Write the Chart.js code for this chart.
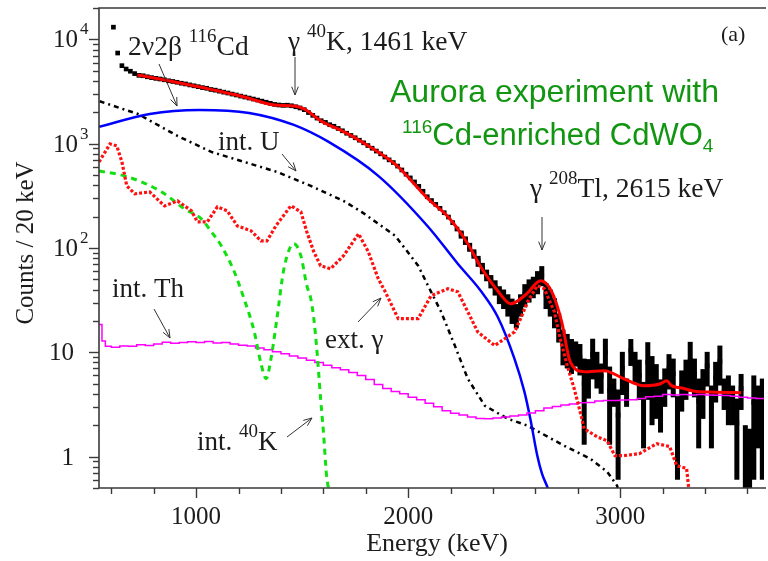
<!DOCTYPE html>
<html><head><meta charset="utf-8">
<script src="https://cdn.jsdelivr.net/npm/chart.js@4"></script>
<style>html,body{margin:0;padding:0;background:#fff;overflow:hidden}</style>
</head><body>
<canvas id="c" width="768" height="561"></canvas>
<script>
// ---------------- DATA ----------------
// Experimental spectrum, 20 keV bins
const binWidth = 20;
const lowStart = 610;   // first bin centre of low-energy part
const lowCounts = [13100,7400,5600,5200,4950,4700,4520,4480,4380,4300,
  4230,4170,4100,4010,3950,3880,3800,3740,3660,3590,
  3520,3450,3400,3310,3260,3190,3120,3060,2990,2930,
  2860,2800,2740,2680,2620,2560,2500,2440,2380,2350,
  2330,2340,2310,2260,2200,2120,1990,1870,1760,1660,
  1600,1520,1470,1400,1330,1260,1200,1140,1080,1020,
  960,905,850,800,745,700,660,610,560,510,
  470,430,390,350,310,285,262,240,218,198,
  175,152];
const highStart = 2250;
const highCounts = [135,118,102,88,75,64,55,48,42,
  36,33,29,25.7,23,29,36,40,43,48,
  55,36,31,25,18,12,11,9.8,10,9,
  5,6.1,9.5,7.3,5.9,10,4.3,4.3,2.5,7,
  4.3,10.4,7.6,6,3.2,8,5.6,5,3.6,5,
  7,6.2,2.2,4.7,6,8.4,6.2,3.4,4.6,7.4,
  3,5.7,8.2,4.2,4,3.4,2.1,4.5,1.2,1.15,
  3.3,3,3.1];
const highErr = [12,11,10,9,9,8,7,7,7,
  7,7,7,7,6,7,9,10,10,12,
  12,10,9,8,5.6,4.5,4,3.6,2.7,3,
  3.7,2.5,4,2.8,1.9,3.5,3,1.3,1.9,3.1,
  1.3,3,2.5,2.5,2,4.5,3.6,2.7,1.9,2,
  2.6,2.5,1.6,2,2.5,4.2,2.5,2.2,2.3,2.7,
  1.8,2.4,3.4,1.4,2,1.4,1.5,1.7,0.8,0.7,
  2.7,1.8,2.5];

// Total fit (red solid)
const fitE = [723,827,992,1227,1368,1462,1509,1589,1698,1782,1942,2094,2188,2281,2342,2422,2483,2554,2625,2677,2724,2764,2830,2924,3017,3111,3190,3219,3242,3300,3359,3450,3570];
const fitV = [4560,4176,3580,2808,2353,2301,2154,1653,1297,1040,626,296,199,110,66,38.9,29.2,35.6,48.5,38.1,19.6,8.13,6.52,6.67,5.58,4.79,5.0,5.35,4.79,4.5,4.2,4.15,4.1];

// 2nu2beta 116Cd (blue)
const bbE = [542,781,1015,1250,1461,1625,1859,2094,2234,2342,2422,2501,2548,2576,2609,2631,2659,2690];
const bbV = [1449,1929,2108,1974,1514,1040,492,160,70.6,38.9,21.9,8.68,4.2,2.31,1.02,0.687,0.494,0.3];

// internal U (black dash-dot)
const uE = [545,725,912,1072,1226,1381,1541,1695,1780,1939,2047,2108,2155,2220,2281,2361,2469,2563,2736,2858,2938,2985,3000];
const uV = [2550,1929,1188,834,669,537,394,283,222,131,67.6,38.0,24.5,11.6,5.58,3.08,2.31,1.98,1.27,0.957,0.718,0.527,0.4];

// external gamma (red dotted)
const extE = [542,594,626,650,673,711,781,851,912,978,1006,1053,1100,1147,1194,1259,1306,1334,1376,1447,1494,1522,1555,1587,1634,1695,1766,1812,1859,1892,1953,2047,2108,2187,2234,2281,2328,2408,2455,2502,2530,2563,2609,2642,2689,2717,2750,2783,2811,2830,2891,2938,2975,3017,3092,3172,3233,3266,3313,3322,3330];
const extV = [669,995,953,669,394,331,345,253,283,227,178,178,248,227,163,146,117,117,163,254,222,143,92,67.6,63.2,84.2,137,92,50.7,38.0,21.0,21.0,34.9,40.7,38.0,24.5,15.7,11.6,13.5,15.7,21.0,30.5,43.5,40.7,24.5,13.5,7.44,4.48,2.70,1.85,1.55,1.42,1.02,1.02,1.07,1.33,1.25,0.82,0.77,0.52,0.3];

// internal 40K (green dashed)
const kE = [542,678,837,945,1025,1072,1119,1180,1226,1273,1306,1330,1353,1381,1414,1461,1494,1522,1541,1555,1569,1587,1601,1615,1630];
const kV = [549,481,345,237,190,143,105,59.2,32.6,16.1,7.78,5.58,8.68,21.0,63.2,110,84.2,43.5,32.6,21.0,10.8,3.59,1.66,0.66,0.44];

// internal Th (magenta histogram, bin left edges)
const thE = [542,556,572,600,640,680,720,760,800,840,880,920,960,1000,1040,1080,1120,1160,1200,1240,1280,1320,1360,1400,1440,1480,1520,1560,1600,1640,1680,1720,1760,1800,1840,1880,1920,1960,2000,2040,2080,2120,2160,2200,2240,2280,2320,2360,2400,2440,2480,2520,2560,2600,2640,2680,2720,2760,2800,2840,2880,2920,2960,3000,3040,3080,3120,3160,3200,3240,3280,3320,3360,3400,3440,3480,3520,3560,3600,3640,3680];
const thV = [18.5,12.8,11.4,11.2,11.5,11.4,11.8,11.6,12.0,12.5,12.2,12.4,12.6,12.4,12.7,12.3,12.4,12.0,11.7,11.5,11.0,10.6,10.1,9.7,9.2,8.8,8.4,8.0,7.5,7.1,6.8,6.4,6.0,5.5,4.9,4.5,4.2,4.0,3.7,3.5,3.25,3.0,2.75,2.6,2.5,2.4,2.32,2.3,2.34,2.4,2.45,2.5,2.62,2.75,2.92,3.02,3.12,3.2,3.28,3.3,3.42,3.45,3.45,3.48,3.5,3.6,3.75,3.8,3.95,3.9,3.95,3.9,3.95,3.9,3.88,3.85,3.8,3.7,3.65,3.6,3.6];

// Axis ticks
const xMajor = [1000,2000,3000];
const xMinorStep = 200;
const yDecades = [1,10,100,1000,10000];

// ---------------- BUILD ----------------
const pts = (E,V)=>E.map((e,i)=>({x:e,y:V[i]}));
const dataPts = lowCounts.map((c,i)=>({x:lowStart+i*binWidth,y:c}))
  .concat(highCounts.map((c,i)=>({x:highStart+i*binWidth,y:c})));

const SERIF = '"Liberation Serif","Times New Roman",serif';
const SANS = '"Liberation Sans",Arial,sans-serif';
const INK = '#1c1c1c';

function rich(ctx,x,y,parts,align){
  let w=0; parts.forEach(p=>{ctx.font=p[1]; w+=ctx.measureText(p[0]).width;});
  let cx = align==='center' ? x-w/2 : (align==='right' ? x-w : x);
  ctx.textAlign='left'; ctx.textBaseline='alphabetic';
  parts.forEach(p=>{ctx.font=p[1]; ctx.fillText(p[0],cx,y+(p[2]||0)); cx+=ctx.measureText(p[0]).width;});
}
function arrow(ctx,x1,y1,x2,y2){
  ctx.beginPath(); ctx.moveTo(x1,y1); ctx.lineTo(x2,y2);
  const a=Math.atan2(y2-y1,x2-x1), L=9, s=0.38;
  ctx.moveTo(x2-L*Math.cos(a-s),y2-L*Math.sin(a-s)); ctx.lineTo(x2,y2);
  ctx.lineTo(x2-L*Math.cos(a+s),y2-L*Math.sin(a+s)); ctx.stroke();
}

const deco = {
  id:'deco',
  beforeDatasetsDraw(chart){
    const {ctx,chartArea:a,scales:{x,y}}=chart;
    ctx.save(); ctx.beginPath(); ctx.rect(a.left,a.top,a.right-a.left,a.bottom-a.top); ctx.clip();
    ctx.fillStyle='#000';
    highCounts.forEach((c,i)=>{
      const e=highErr[i], px=x.getPixelForValue(highStart+i*binWidth);
      const t=y.getPixelForValue(c+e), b=y.getPixelForValue(Math.max(c-e,0.01));
      ctx.fillRect(px-2.5,t,5,b-t);
    });
    ctx.restore();
  },
  afterDraw(chart){
    const {ctx,chartArea:a,scales:{x,y}}=chart;
    ctx.save();
    // frame
    ctx.strokeStyle='#3a3a3a'; ctx.lineWidth=1.6;
    ctx.beginPath(); ctx.moveTo(a.right+2,a.top); ctx.lineTo(a.left,a.top); ctx.lineTo(a.left,a.bottom); ctx.lineTo(a.right+2,a.bottom); ctx.stroke();
    // y ticks
    ctx.lineWidth=1.4;
    for(let k=-1;k<=4;k++){
      for(let m=1;m<=9;m++){
        const v=m*Math.pow(10,k); if(v<0.5||v>20000) continue;
        const py=Math.round(y.getPixelForValue(v))+0.5;
        ctx.beginPath(); ctx.moveTo(a.left,py); ctx.lineTo(a.left-(m===1?10:6),py); ctx.stroke();
      }
    }
    // x ticks
    for(let e=600;e<=3600;e+=xMinorStep){
      const px=Math.round(x.getPixelForValue(e))+0.5;
      ctx.beginPath(); ctx.moveTo(px,a.bottom); ctx.lineTo(px,a.bottom+(xMajor.includes(e)?10:6)); ctx.stroke();
    }
    ctx.fillStyle=INK;
    // x tick labels
    ctx.font='25px '+SERIF; ctx.textAlign='center'; ctx.textBaseline='alphabetic';
    xMajor.forEach(e=>ctx.fillText(String(e),x.getPixelForValue(e),524));
    // y tick labels
    yDecades.forEach(v=>{
      const py=y.getPixelForValue(v);
      const k=Math.round(Math.log10(v));
      if(k>=2){
        ctx.font='25px '+SERIF; ctx.textAlign='right'; ctx.fillText('10',78,py+8);
        ctx.font='17px '+SERIF; ctx.textAlign='left'; ctx.fillText(String(k),80,py-5);
      } else {
        ctx.font='25px '+SERIF; ctx.textAlign='right'; ctx.fillText(String(v),74,py+8);
      }
    });
    // axis titles
    ctx.font='26px '+SERIF; ctx.textAlign='center';
    ctx.fillText('Energy (keV)',437,551);
    ctx.font='25px '+SERIF;
    ctx.save(); ctx.translate(33,243); ctx.rotate(-Math.PI/2); ctx.fillText('Counts / 20 keV',0,0); ctx.restore();
    // annotations
    const F=s=>s+'px '+SERIF;
    rich(ctx,128,55,[['2ν2β ',F(27.5)],['116',F(19),-13],['Cd',F(27.5)]]);
    rich(ctx,288,50,[['γ ',F(27.5)],['40',F(19),-13],['K, 1461 keV',F(27.5)]]);
    rich(ctx,721,41,[['(a)',F(22)]]);
    rich(ctx,218,150,[['int. U',F(27)]]);
    rich(ctx,530,197,[['γ ',F(27.5)],['208',F(19),-13],['Tl, 2615 keV',F(27.5)]]);
    rich(ctx,112,297,[['int. Th',F(27)]]);
    rich(ctx,325,348,[['ext. γ',F(27)]]);
    rich(ctx,197,450,[['int. ',F(27)],['40',F(19),-13],['K',F(27)]]);
    // green title
    ctx.fillStyle='#129612';
    rich(ctx,390,102,[['Aurora experiment with','32px '+SANS]]);
    rich(ctx,402,145,[['116','19px '+SANS,-12],['Cd-enriched CdWO','31px '+SANS],['4','19px '+SANS,7]]);
    // arrows
    ctx.strokeStyle='#333'; ctx.lineWidth=1;
    arrow(ctx,159,64,177,106);
    arrow(ctx,295,57,295,95);
    arrow(ctx,282,154,296,171);
    arrow(ctx,542,217,542,250);
    arrow(ctx,154,309,170,338);
    arrow(ctx,358,322,381,298);
    arrow(ctx,287,437,312,418);
    ctx.restore();
  }
};

const lineDs = (d,color,w,extra)=>Object.assign({data:d,showLine:true,borderColor:color,borderWidth:w,pointRadius:0,fill:false,tension:0},extra||{});

new Chart(document.getElementById('c'),{
  type:'scatter',
  data:{datasets:[
    lineDs(pts(fitE,fitV),'#ff0000',3,{cubicInterpolationMode:'monotone'}),
    lineDs(pts(extE,extV),'#ff1010',3.2,{borderDash:[3,2]}),
    lineDs(pts(kE,kV),'#10e010',3,{borderDash:[6,5],cubicInterpolationMode:'monotone'}),
    lineDs(pts(thE,thV),'#ff00ff',1.5,{stepped:'before'}),
    lineDs(pts(bbE,bbV),'#0000ff',2.5,{cubicInterpolationMode:'monotone'}),
    lineDs(pts(uE,uV),'#000000',2.5,{borderDash:[5,4,2,4]}),
    {data:dataPts,showLine:false,pointStyle:'rect',pointRadius:3.3,backgroundColor:'#000',borderWidth:0}
  ]},
  options:{
    responsive:false,animation:false,devicePixelRatio:1,
    layout:{padding:{left:99,top:8,right:0,bottom:73}},
    plugins:{legend:{display:false},tooltip:{enabled:false}},
    scales:{
      x:{type:'linear',min:542,max:3678,display:false},
      y:{type:'logarithmic',min:0.5,max:20000,display:false}
    }
  },
  plugins:[deco]
});
</script>
</body></html>
